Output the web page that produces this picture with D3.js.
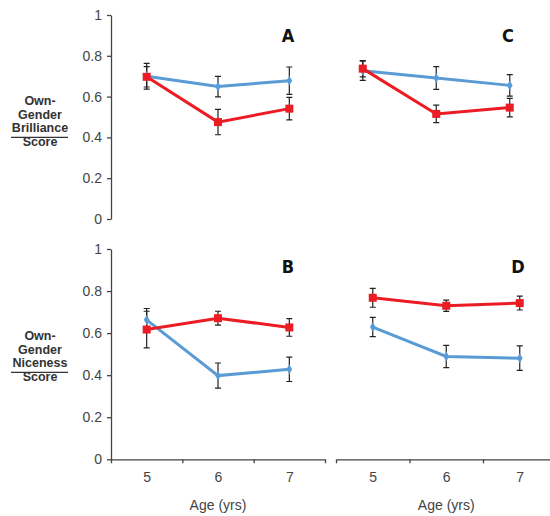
<!DOCTYPE html>
<html>
<head>
<meta charset="utf-8">
<script src="https://cdn.jsdelivr.net/npm/d3@7"></script>
<style>
  body { margin: 0; background: #fff; }
  svg { display: block; font-family: "Liberation Sans", Arial, sans-serif; }
</style>
</head>
<body>
<svg id="chart"></svg>
<script>
// ages on the x axis
const ages = [5, 6, 7];
const yTicks = [0, 0.2, 0.4, 0.6, 0.8, 1];

// A: brilliance, study left
const aBlue = [0.700, 0.649, 0.678];
const aBlueErr = [0.063, 0.050, 0.067];
const aRed = [0.697, 0.475, 0.541];
const aRedErr = [0.050, 0.062, 0.055];

// C: brilliance, right
const cBlue = [0.727, 0.691, 0.655];
const cBlueErr = [0.047, 0.056, 0.053];
const cRed = [0.737, 0.515, 0.546];
const cRedErr = [0.040, 0.043, 0.045];

// B: niceness, left
const bBlue = [0.663, 0.398, 0.428];
const bBlueErr = [0.054, 0.060, 0.058];
const bRed = [0.617, 0.671, 0.627];
const bRedErr = [0.087, 0.033, 0.042];

// D: niceness, right
const dBlue = [0.629, 0.489, 0.481];
const dBlueErr = [0.046, 0.053, 0.058];
const dRed = [0.768, 0.730, 0.743];
const dRedErr = [0.045, 0.027, 0.033];

const blue = '#5b9bd5';
const red = '#ec1c24';

const svg = d3.select('#chart')
    .attr('width', 550)
    .attr('height', 516);

const panels = [
    {letter: 'A', x: [111, 325], y: [219, 15], blue: aBlue, blueErr: aBlueErr, red: aRed, redErr: aRedErr, yAxis: true, xAxis: false, lx: 288, ly: 42},
    {letter: 'C', x: [326, 546.5], y: [219, 15], blue: cBlue, blueErr: cBlueErr, red: cRed, redErr: cRedErr, yAxis: false, xAxis: false, lx: 508, ly: 42},
    {letter: 'B', x: [111, 325], y: [459.3, 249], blue: bBlue, blueErr: bBlueErr, red: bRed, redErr: bRedErr, yAxis: true, xAxis: true, lx: 288, ly: 273},
    {letter: 'D', x: [336, 556.5], y: [459.3, 249], blue: dBlue, blueErr: dBlueErr, red: dRed, redErr: dRedErr, yAxis: false, xAxis: true, lx: 518, ly: 273}
];

panels.forEach(p => {
    const x = d3.scaleLinear().domain([4.5, 7.5]).range(p.x);
    const y = d3.scaleLinear().domain([0, 1]).range(p.y);
    const g = svg.append('g');

    if (p.yAxis) {
        const ya = g.append('g')
            .attr('transform', `translate(${p.x[0]},0)`)
            .call(d3.axisLeft(y)
                .tickValues(yTicks)
                .tickFormat(d => (d === 0 || d === 1) ? d : d.toFixed(1))
                .tickSize(4)
                .tickSizeOuter(0)
                .tickPadding(5));
        ya.selectAll('path, line').attr('stroke', '#444').attr('stroke-width', 1.3);
        ya.selectAll('text').attr('fill', '#444').style('font-size', '14px');
    }

    if (p.xAxis) {
        const xa = g.append('g')
            .attr('transform', `translate(0,${p.y[0]})`)
            .call(d3.axisBottom(x)
                .tickValues([5.5, 6.5])
                .tickFormat('')
                .tickSizeInner(4)
                .tickSizeOuter(4));
        xa.selectAll('path, line').attr('stroke', '#444').attr('stroke-width', 1.3);

        const xl = g.append('g')
            .attr('transform', `translate(0,${p.y[0]})`)
            .call(d3.axisBottom(x).tickValues(ages).tickFormat(d3.format('d')).tickSize(0).tickPadding(13));
        xl.select('.domain').remove();
        xl.selectAll('text').attr('fill', '#444').style('font-size', '14px');

        g.append('text')
            .attr('x', x(6))
            .attr('y', 510)
            .attr('text-anchor', 'middle')
            .attr('fill', '#444')
            .style('font-size', '14px')
            .text('Age (yrs)');
    }

    const series = [
        {vals: p.blue, err: p.blueErr, color: blue, sym: d3.symbolDiamond, size: 28},
        {vals: p.red, err: p.redErr, color: red, sym: d3.symbolSquare, size: 64}
    ];

    // error bars
    series.forEach(s => {
        const eb = g.append('g').attr('stroke', '#222').attr('stroke-width', 1.2).attr('fill', 'none');
        ages.forEach((a, i) => {
            const cx = x(a);
            const lo = y(s.vals[i] - s.err[i]);
            const hi = y(s.vals[i] + s.err[i]);
            eb.append('path')
                .attr('d', `M${cx},${lo}V${hi}M${cx - 3},${hi}H${cx + 3}M${cx - 3},${lo}H${cx + 3}`);
        });
    });

    series.forEach(s => {
        const line = d3.line()
            .x((d, i) => x(ages[i]))
            .y(d => y(d));
        g.append('path')
            .datum(s.vals)
            .attr('fill', 'none')
            .attr('stroke', s.color)
            .attr('stroke-width', 3)
            .attr('d', line);
        g.selectAll(null)
            .data(s.vals)
            .join('path')
            .attr('transform', (d, i) => `translate(${x(ages[i])},${y(d)})`)
            .attr('d', d3.symbol(s.sym, s.size))
            .attr('fill', s.color);
    });

    g.append('text')
        .attr('x', p.lx)
        .attr('y', p.ly)
        .attr('text-anchor', 'middle')
        .style('font-family', '"DejaVu Sans", Arial, sans-serif')
        .style('font-stretch', 'condensed')
        .style('font-weight', 'bold')
        .style('font-size', '18px')
        .attr('fill', '#111')
        .text(p.letter);
});

// row labels
const rowLabels = [
    {lines: ['Own-', 'Gender', 'Brilliance', 'Score'], top: 105},
    {lines: ['Own-', 'Gender', 'Niceness', 'Score'], top: 340}
];
rowLabels.forEach(r => {
    const t = svg.append('text')
        .attr('text-anchor', 'middle')
        .attr('fill', '#333')
        .style('font-weight', 'bold')
        .style('font-size', '12.5px');
    r.lines.forEach((l, i) => {
        t.append('tspan').attr('x', 40).attr('y', r.top + i * 13.7).text(l);
    });
    svg.append('line')
        .attr('x1', 11).attr('x2', 68)
        .attr('y1', r.top + 2 * 13.7 + 5).attr('y2', r.top + 2 * 13.7 + 5)
        .attr('stroke', '#333').attr('stroke-width', 1.2);
});
</script>
</body>
</html>
